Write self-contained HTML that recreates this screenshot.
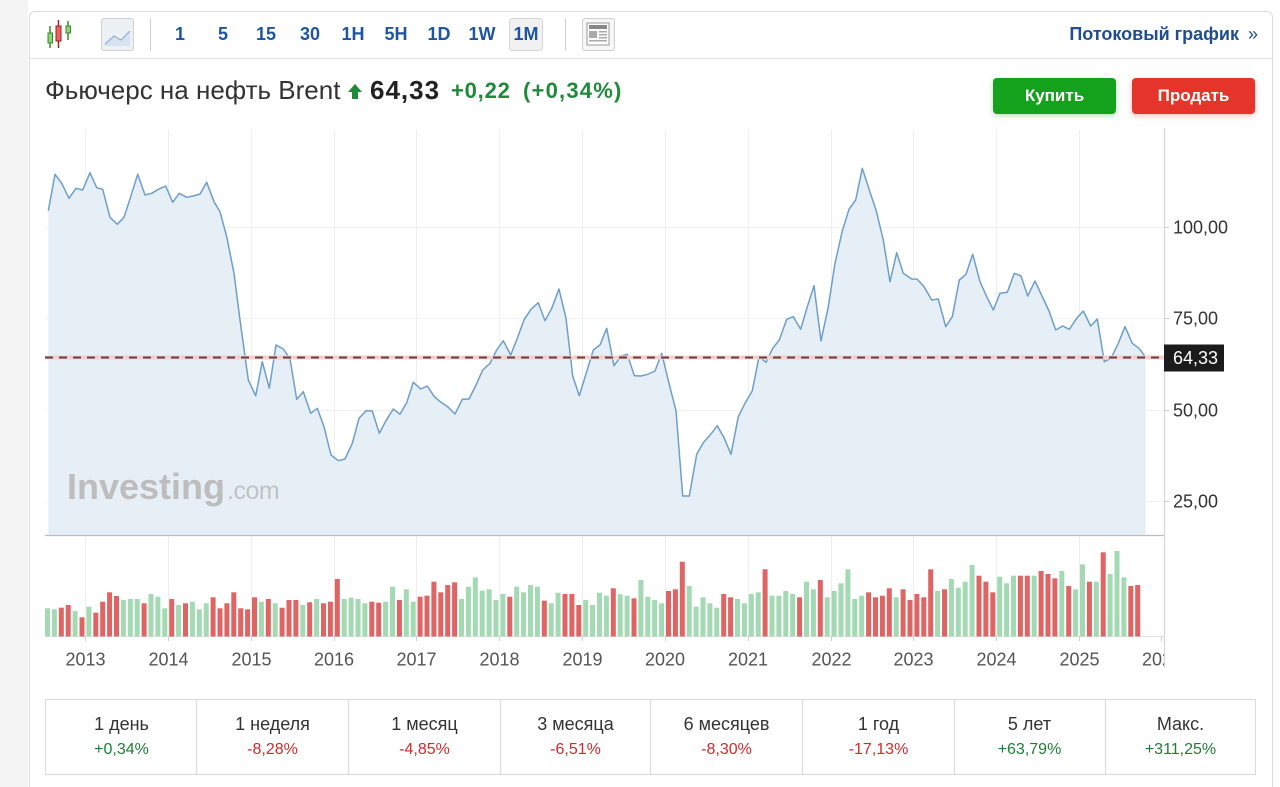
<!DOCTYPE html>
<html style="overflow:hidden;height:787px"><head><meta charset="utf-8"><style>
body{margin:0;width:1280px;height:787px;overflow:hidden;background:#fff;font-family:"Liberation Sans",Arial,sans-serif;position:relative}
.a{position:absolute;white-space:nowrap}
.iv{position:absolute;top:24px;width:40px;text-align:center;font-weight:bold;font-size:18px;line-height:20px;color:#1f55a0}
.cell{position:absolute;top:700px;width:151px;height:74px;text-align:center}
.cell .l{position:absolute;left:0;right:0;top:13px;font-size:18px;line-height:22px;color:#333}
.cell .v{position:absolute;left:0;right:0;top:41px;font-size:16px;line-height:18px}
.g{color:#1f7e35}.r{color:#d2292b}
</style></head><body>
<div class="a" style="left:0;top:0;width:28px;height:787px;background:#f4f4f4"></div>
<div class="a" style="left:29px;top:11px;width:1242px;height:776px;border:1px solid #dcdcdc;border-bottom:none;border-radius:6px 6px 0 0;background:#fff"></div>
<div class="a" style="left:30px;top:58px;width:1242px;height:1px;background:#e3e3e3"></div>

<!-- toolbar boxes -->
<div class="a" style="left:101px;top:18px;width:31px;height:31px;background:#eef1f4;border:1px solid #d0d0d0;border-radius:3px"></div>
<div class="a" style="left:509px;top:18px;width:32px;height:31px;background:#f1f1f1;border:1px solid #d6d6d6;border-radius:3px"></div>
<div class="a" style="left:582px;top:18px;width:31px;height:31px;background:#f6f6f6;border:1px solid #cfcfcf;border-radius:3px"></div>
<div class="a" style="left:150px;top:18px;width:1px;height:33px;background:#cfcfcf"></div>
<div class="a" style="left:565px;top:18px;width:1px;height:33px;background:#cfcfcf"></div>

<div class="iv" style="left:160px">1</div>
<div class="iv" style="left:203px">5</div>
<div class="iv" style="left:246px">15</div>
<div class="iv" style="left:290px">30</div>
<div class="iv" style="left:333px">1H</div>
<div class="iv" style="left:376px">5H</div>
<div class="iv" style="left:419px">1D</div>
<div class="iv" style="left:462px">1W</div>
<div class="iv" style="left:506px">1M</div>

<div class="a" style="right:22px;top:24px;font-weight:bold;font-size:18px;line-height:20px;color:#1f4e8f">Потоковый график <span style="font-weight:normal;margin-left:4px">»</span></div>

<!-- title -->
<div class="a" style="left:45px;top:75px;font-size:26px;line-height:30px;color:#333">Фьючерс на нефть Brent</div>
<div class="a" style="left:370px;top:75px;font-size:26px;line-height:30px;color:#222;font-weight:bold;letter-spacing:1px">64,33</div>
<div class="a" style="left:451px;top:78px;font-size:22px;line-height:26px;color:#1f8a3a;font-weight:bold;letter-spacing:0.8px">+0,22</div>
<div class="a" style="left:523px;top:78px;font-size:22px;line-height:26px;color:#1f8a3a;font-weight:bold;letter-spacing:1.2px">(+0,34%)</div>

<div class="a" style="left:993px;top:78px;width:123px;height:36px;background:#14a11c;border-radius:4px;box-shadow:0 2px 6px rgba(20,160,30,0.3);color:#fff;font-weight:bold;font-size:17px;line-height:36px;text-align:center">Купить</div>
<div class="a" style="left:1132px;top:78px;width:123px;height:36px;background:#e5352b;border-radius:4px;box-shadow:0 2px 6px rgba(229,53,43,0.3);color:#fff;font-weight:bold;font-size:17px;line-height:36px;text-align:center">Продать</div>

<svg class="a" style="left:0;top:0" width="1280" height="787" xmlns="http://www.w3.org/2000/svg">
<!-- candlestick icon -->
<g stroke-width="1.5">
<line x1="50" y1="26" x2="50" y2="48" stroke="#3a8a2a"/>
<rect x="48" y="33" width="4.5" height="10" fill="#8fd37a" stroke="#3a8a2a" stroke-width="1"/>
<line x1="58.5" y1="20" x2="58.5" y2="48" stroke="#a02020"/>
<rect x="56" y="26" width="5" height="15" fill="#f06060" stroke="#a02020" stroke-width="1"/>
<line x1="68" y1="21" x2="68" y2="40" stroke="#3a8a2a"/>
<rect x="66" y="26" width="4.5" height="7" fill="#8fd37a" stroke="#3a8a2a" stroke-width="1"/>
</g>
<!-- area icon -->
<path d="M105,44 L114,36 L121,40 L130,31 L130,46 L105,46 Z" fill="#d7e3f0"/>
<polyline points="105,44 114,36 121,40 130,31" fill="none" stroke="#8fb0d0" stroke-width="1.2"/>
<!-- news icon -->
<rect x="587" y="23" width="22" height="22" fill="#fff" stroke="#9a9a9a" stroke-width="1"/>
<rect x="589" y="25" width="18" height="4" fill="#888"/>
<rect x="589" y="31" width="8" height="7" fill="#aaa"/>
<rect x="599" y="31" width="8" height="1.5" fill="#aaa"/>
<rect x="599" y="34" width="8" height="1.5" fill="#aaa"/>
<rect x="599" y="37" width="8" height="1.5" fill="#aaa"/>
<rect x="589" y="40" width="18" height="1.5" fill="#aaa"/>
<!-- up arrow -->
<path d="M355,84 L362,92 L358,92 L358,99 L352,99 L352,92 L348,92 Z" fill="#1f8a3a"/>

<!-- gridlines -->
<g stroke="#f1f1f1" stroke-width="1">
<line x1="45" y1="227.5" x2="1164" y2="227.5"/>
<line x1="45" y1="318.5" x2="1164" y2="318.5"/>
<line x1="45" y1="410.5" x2="1164" y2="410.5"/>
<line x1="45" y1="501.5" x2="1164" y2="501.5"/>
</g>
<g stroke="#efefef" stroke-width="1">
<line x1="85.5" y1="130" x2="85.5" y2="636"/>
<line x1="168.5" y1="130" x2="168.5" y2="636"/>
<line x1="251.5" y1="130" x2="251.5" y2="636"/>
<line x1="334.5" y1="130" x2="334.5" y2="636"/>
<line x1="416.5" y1="130" x2="416.5" y2="636"/>
<line x1="499.5" y1="130" x2="499.5" y2="636"/>
<line x1="582.5" y1="130" x2="582.5" y2="636"/>
<line x1="665.5" y1="130" x2="665.5" y2="636"/>
<line x1="748.5" y1="130" x2="748.5" y2="636"/>
<line x1="831.5" y1="130" x2="831.5" y2="636"/>
<line x1="913.5" y1="130" x2="913.5" y2="636"/>
<line x1="996.5" y1="130" x2="996.5" y2="636"/>
<line x1="1079.5" y1="130" x2="1079.5" y2="636"/>
</g>

<!-- area fill + line -->
<path fill="#e6eef6" d="M48.3,535 L48.3,210.7 L55,174.3 L61.7,183.3 L69,198.3 L76,188.3 L82.7,190 L90,172.7 L96.7,187.7 L102.7,189.3 L110,217.3 L117.3,224.3 L124,217.3 L130.7,196.7 L137.7,174.3 L145,195 L151.7,193.3 L158.3,189.3 L165.7,186 L172.7,202.3 L179.3,193.3 L186.7,197.3 L193.3,196 L200,194 L206.7,182.3 L214,201.7 L220,211.7 L226.7,236.7 L234,273.3 L240,320 L248.3,380 L255.7,395.7 L262.3,361.7 L269.3,388.3 L276,345 L283.3,349 L290,359 L296.7,399.3 L303.3,391.7 L310.7,413.3 L317.3,408.3 L324,426.7 L331,455 L338.3,460.7 L345,459 L352.3,443.3 L359,418.3 L366,410.7 L372.3,411 L379.3,433.3 L386,420.7 L393.3,409 L400,414.3 L406.7,402.7 L413.3,382.3 L420.7,389 L427.3,386 L434.3,396.7 L441,402.3 L447.7,406.7 L455,414 L462.3,399.3 L469,399 L476,385 L482.7,370 L490,363.3 L496.7,350 L503.3,340.7 L510.7,355 L517.3,338.3 L524.3,319.3 L531,309.3 L538.3,302.7 L545,320.7 L551.7,308.3 L559,289 L566,318.3 L572.7,376 L579.3,395.7 L586.7,371.7 L593.3,350 L600,345 L606.7,328.3 L614,365.7 L621,356 L627.3,354.3 L634.3,375.7 L641,376 L647.7,374.3 L655,371 L661.7,353.3 L669,383.3 L676,410.7 L682.7,496 L689.3,496 L696.7,454.3 L703.3,442.7 L710.7,434.3 L717.3,425.7 L724.3,438.3 L731,454.3 L738.3,416.7 L745,403.3 L752.3,390.7 L759,356.7 L766,362.3 L772.7,348.3 L779.3,340 L786.7,319.3 L793.3,316.7 L800.7,329.3 L807.3,306.7 L814,285.7 L821,341 L828.3,306.7 L835,263.3 L842.3,231 L849,209.3 L855.7,200 L862.3,168.3 L869.3,190 L876,210 L883.3,240 L890,281.7 L896.7,252.7 L903.3,273.3 L911.7,279 L917.3,279.3 L924,286.7 L931.7,300 L938.3,299 L945.7,326.7 L952.3,316.7 L959.3,280 L966,274.3 L972.7,254.3 L980,281.7 L986.7,296.7 L993.3,310 L1000,293.3 L1007.3,292.3 L1014.3,273.3 L1021,276 L1027.7,296 L1035,281 L1042.3,296.7 L1049,311 L1055.7,330 L1062.7,326 L1069.3,329.3 L1076.7,318.3 L1083.3,311 L1090.7,326 L1097.3,319 L1104.3,361.7 L1111,358.3 L1118.3,343.3 L1125,326.7 L1132.3,343.3 L1139,348.3 L1145.7,357.3 L1145.7,535 Z"/>

<!-- watermark -->
<text x="67" y="499" font-family="Liberation Sans, Arial, sans-serif" font-weight="bold" font-size="36" fill="#bdbdbd" letter-spacing="0">Investing</text>
<text x="227" y="499" font-family="Liberation Sans, Arial, sans-serif" font-size="25" fill="#c2c2c2" letter-spacing="-0.5">.com</text>

<polyline fill="none" stroke="#6d9fca" stroke-width="1.5" stroke-linejoin="round" points="48.3,210.7 55,174.3 61.7,183.3 69,198.3 76,188.3 82.7,190 90,172.7 96.7,187.7 102.7,189.3 110,217.3 117.3,224.3 124,217.3 130.7,196.7 137.7,174.3 145,195 151.7,193.3 158.3,189.3 165.7,186 172.7,202.3 179.3,193.3 186.7,197.3 193.3,196 200,194 206.7,182.3 214,201.7 220,211.7 226.7,236.7 234,273.3 240,320 248.3,380 255.7,395.7 262.3,361.7 269.3,388.3 276,345 283.3,349 290,359 296.7,399.3 303.3,391.7 310.7,413.3 317.3,408.3 324,426.7 331,455 338.3,460.7 345,459 352.3,443.3 359,418.3 366,410.7 372.3,411 379.3,433.3 386,420.7 393.3,409 400,414.3 406.7,402.7 413.3,382.3 420.7,389 427.3,386 434.3,396.7 441,402.3 447.7,406.7 455,414 462.3,399.3 469,399 476,385 482.7,370 490,363.3 496.7,350 503.3,340.7 510.7,355 517.3,338.3 524.3,319.3 531,309.3 538.3,302.7 545,320.7 551.7,308.3 559,289 566,318.3 572.7,376 579.3,395.7 586.7,371.7 593.3,350 600,345 606.7,328.3 614,365.7 621,356 627.3,354.3 634.3,375.7 641,376 647.7,374.3 655,371 661.7,353.3 669,383.3 676,410.7 682.7,496 689.3,496 696.7,454.3 703.3,442.7 710.7,434.3 717.3,425.7 724.3,438.3 731,454.3 738.3,416.7 745,403.3 752.3,390.7 759,356.7 766,362.3 772.7,348.3 779.3,340 786.7,319.3 793.3,316.7 800.7,329.3 807.3,306.7 814,285.7 821,341 828.3,306.7 835,263.3 842.3,231 849,209.3 855.7,200 862.3,168.3 869.3,190 876,210 883.3,240 890,281.7 896.7,252.7 903.3,273.3 911.7,279 917.3,279.3 924,286.7 931.7,300 938.3,299 945.7,326.7 952.3,316.7 959.3,280 966,274.3 972.7,254.3 980,281.7 986.7,296.7 993.3,310 1000,293.3 1007.3,292.3 1014.3,273.3 1021,276 1027.7,296 1035,281 1042.3,296.7 1049,311 1055.7,330 1062.7,326 1069.3,329.3 1076.7,318.3 1083.3,311 1090.7,326 1097.3,319 1104.3,361.7 1111,358.3 1118.3,343.3 1125,326.7 1132.3,343.3 1139,348.3 1145.7,357.3"/>

<!-- current price dashed line -->
<line x1="45" y1="357.5" x2="1164" y2="357.5" stroke="#f3d0d0" stroke-width="4"/>
<line x1="45" y1="357.5" x2="1164" y2="357.5" stroke="#6a3c3c" stroke-width="2" stroke-dasharray="8,6"/>

<!-- separators and frame -->
<line x1="45" y1="535.5" x2="1164" y2="535.5" stroke="#bdbdbd" stroke-width="1.2"/>
<line x1="45" y1="636.5" x2="1164" y2="636.5" stroke="#e2e2e2" stroke-width="1"/>
<line x1="1164.5" y1="128" x2="1164.5" y2="668" stroke="#d6d6d6" stroke-width="1.2"/>
<g stroke="#d0d0d0" stroke-width="1">
<line x1="1164" y1="227.5" x2="1169" y2="227.5"/>
<line x1="1164" y1="318.5" x2="1169" y2="318.5"/>
<line x1="1164" y1="410.5" x2="1169" y2="410.5"/>
<line x1="1164" y1="501.5" x2="1169" y2="501.5"/>
<line x1="85.5" y1="636" x2="85.5" y2="641"/>
<line x1="168.5" y1="636" x2="168.5" y2="641"/>
<line x1="251.5" y1="636" x2="251.5" y2="641"/>
<line x1="334.5" y1="636" x2="334.5" y2="641"/>
<line x1="416.5" y1="636" x2="416.5" y2="641"/>
<line x1="499.5" y1="636" x2="499.5" y2="641"/>
<line x1="582.5" y1="636" x2="582.5" y2="641"/>
<line x1="665.5" y1="636" x2="665.5" y2="641"/>
<line x1="748.5" y1="636" x2="748.5" y2="641"/>
<line x1="831.5" y1="636" x2="831.5" y2="641"/>
<line x1="913.5" y1="636" x2="913.5" y2="641"/>
<line x1="996.5" y1="636" x2="996.5" y2="641"/>
<line x1="1079.5" y1="636" x2="1079.5" y2="641"/>
<line x1="1161.5" y1="636" x2="1161.5" y2="641"/>
</g>

<!-- volume bars green -->
<g fill="#a3d9b3">
<rect x="45" y="608.3" width="5" height="28.2"/>
<rect x="51.9" y="609.3" width="5" height="27.2"/>
<rect x="72.6" y="611" width="5" height="25.5"/>
<rect x="86.4" y="606.7" width="5" height="29.8"/>
<rect x="120.9" y="600" width="5" height="36.5"/>
<rect x="127.8" y="599" width="5" height="37.5"/>
<rect x="134.7" y="599" width="5" height="37.5"/>
<rect x="148.5" y="594" width="5" height="42.5"/>
<rect x="155.4" y="596.7" width="5" height="39.8"/>
<rect x="162.3" y="608.3" width="5" height="28.2"/>
<rect x="176.1" y="605" width="5" height="31.5"/>
<rect x="189.9" y="601.7" width="5" height="34.8"/>
<rect x="196.8" y="609.3" width="5" height="27.2"/>
<rect x="203.7" y="603.3" width="5" height="33.2"/>
<rect x="258.9" y="601.7" width="5" height="34.8"/>
<rect x="272.7" y="603.3" width="5" height="33.2"/>
<rect x="300.3" y="605" width="5" height="31.5"/>
<rect x="314.1" y="599" width="5" height="37.5"/>
<rect x="341.7" y="599" width="5" height="37.5"/>
<rect x="348.6" y="597.7" width="5" height="38.8"/>
<rect x="355.5" y="599" width="5" height="37.5"/>
<rect x="362.4" y="603.3" width="5" height="33.2"/>
<rect x="383.1" y="601.7" width="5" height="34.8"/>
<rect x="390" y="586.7" width="5" height="49.8"/>
<rect x="403.8" y="589.3" width="5" height="47.2"/>
<rect x="410.7" y="601.7" width="5" height="34.8"/>
<rect x="459" y="599" width="5" height="37.5"/>
<rect x="465.9" y="586.7" width="5" height="49.8"/>
<rect x="472.8" y="577.3" width="5" height="59.2"/>
<rect x="479.7" y="590.7" width="5" height="45.8"/>
<rect x="486.6" y="589.3" width="5" height="47.2"/>
<rect x="493.5" y="600" width="5" height="36.5"/>
<rect x="500.4" y="594" width="5" height="42.5"/>
<rect x="514.2" y="586.7" width="5" height="49.8"/>
<rect x="521.1" y="592.3" width="5" height="44.2"/>
<rect x="528" y="585" width="5" height="51.5"/>
<rect x="534.9" y="586.7" width="5" height="49.8"/>
<rect x="548.7" y="603.3" width="5" height="33.2"/>
<rect x="555.6" y="592.7" width="5" height="43.8"/>
<rect x="583.2" y="600" width="5" height="36.5"/>
<rect x="590.1" y="605" width="5" height="31.5"/>
<rect x="597" y="592.7" width="5" height="43.8"/>
<rect x="603.9" y="595.7" width="5" height="40.8"/>
<rect x="617.7" y="594.3" width="5" height="42.2"/>
<rect x="624.6" y="595.7" width="5" height="40.8"/>
<rect x="638.4" y="580" width="5" height="56.5"/>
<rect x="645.3" y="596.7" width="5" height="39.8"/>
<rect x="652.2" y="600" width="5" height="36.5"/>
<rect x="659.1" y="603.3" width="5" height="33.2"/>
<rect x="686.7" y="586" width="5" height="50.5"/>
<rect x="693.6" y="606.7" width="5" height="29.8"/>
<rect x="700.5" y="597.3" width="5" height="39.2"/>
<rect x="707.4" y="603.3" width="5" height="33.2"/>
<rect x="714.3" y="607.7" width="5" height="28.8"/>
<rect x="735" y="599" width="5" height="37.5"/>
<rect x="741.9" y="603.3" width="5" height="33.2"/>
<rect x="748.8" y="594" width="5" height="42.5"/>
<rect x="755.7" y="592.3" width="5" height="44.2"/>
<rect x="769.5" y="595.7" width="5" height="40.8"/>
<rect x="776.4" y="595.7" width="5" height="40.8"/>
<rect x="783.3" y="591" width="5" height="45.5"/>
<rect x="790.2" y="594" width="5" height="42.5"/>
<rect x="804" y="581.7" width="5" height="54.8"/>
<rect x="810.9" y="589.3" width="5" height="47.2"/>
<rect x="824.7" y="597.3" width="5" height="39.2"/>
<rect x="831.6" y="591" width="5" height="45.5"/>
<rect x="838.5" y="583.3" width="5" height="53.2"/>
<rect x="845.4" y="569.3" width="5" height="67.2"/>
<rect x="852.3" y="599" width="5" height="37.5"/>
<rect x="859.2" y="595.7" width="5" height="40.8"/>
<rect x="893.7" y="597.3" width="5" height="39.2"/>
<rect x="935.1" y="591" width="5" height="45.5"/>
<rect x="948.9" y="579" width="5" height="57.5"/>
<rect x="955.8" y="587.7" width="5" height="48.8"/>
<rect x="962.7" y="581.7" width="5" height="54.8"/>
<rect x="969.6" y="565" width="5" height="71.5"/>
<rect x="997.2" y="576.7" width="5" height="59.8"/>
<rect x="1004.1" y="583.3" width="5" height="53.2"/>
<rect x="1011" y="575.7" width="5" height="60.8"/>
<rect x="1031.7" y="575.7" width="5" height="60.8"/>
<rect x="1059.3" y="571" width="5" height="65.5"/>
<rect x="1073.1" y="589.3" width="5" height="47.2"/>
<rect x="1080" y="564.3" width="5" height="72.2"/>
<rect x="1093.8" y="581.7" width="5" height="54.8"/>
<rect x="1107.6" y="574" width="5" height="62.5"/>
<rect x="1114.5" y="551" width="5" height="85.5"/>
<rect x="1121.4" y="577.3" width="5" height="59.2"/>
</g>
<!-- volume bars red -->
<g fill="#df6464">
<rect x="58.8" y="607.7" width="5" height="28.8"/>
<rect x="65.7" y="605" width="5" height="31.5"/>
<rect x="79.5" y="617.3" width="5" height="19.2"/>
<rect x="93.3" y="612.7" width="5" height="23.8"/>
<rect x="100.2" y="601.7" width="5" height="34.8"/>
<rect x="107.1" y="592.3" width="5" height="44.2"/>
<rect x="114" y="596" width="5" height="40.5"/>
<rect x="141.6" y="603.3" width="5" height="33.2"/>
<rect x="169.2" y="599" width="5" height="37.5"/>
<rect x="183" y="603.3" width="5" height="33.2"/>
<rect x="210.6" y="597.3" width="5" height="39.2"/>
<rect x="217.5" y="608.3" width="5" height="28.2"/>
<rect x="224.4" y="603.3" width="5" height="33.2"/>
<rect x="231.3" y="592.3" width="5" height="44.2"/>
<rect x="238.2" y="608.3" width="5" height="28.2"/>
<rect x="245.1" y="609.3" width="5" height="27.2"/>
<rect x="252" y="597.3" width="5" height="39.2"/>
<rect x="265.8" y="599" width="5" height="37.5"/>
<rect x="279.6" y="607.7" width="5" height="28.8"/>
<rect x="286.5" y="600" width="5" height="36.5"/>
<rect x="293.4" y="600" width="5" height="36.5"/>
<rect x="307.2" y="602.3" width="5" height="34.2"/>
<rect x="321" y="603.3" width="5" height="33.2"/>
<rect x="327.9" y="601.7" width="5" height="34.8"/>
<rect x="334.8" y="579" width="5" height="57.5"/>
<rect x="369.3" y="601.7" width="5" height="34.8"/>
<rect x="376.2" y="602.7" width="5" height="33.8"/>
<rect x="396.9" y="600" width="5" height="36.5"/>
<rect x="417.6" y="596.7" width="5" height="39.8"/>
<rect x="424.5" y="595.7" width="5" height="40.8"/>
<rect x="431.4" y="581.7" width="5" height="54.8"/>
<rect x="438.3" y="592.3" width="5" height="44.2"/>
<rect x="445.2" y="585" width="5" height="51.5"/>
<rect x="452.1" y="582.3" width="5" height="54.2"/>
<rect x="507.3" y="596.7" width="5" height="39.8"/>
<rect x="541.8" y="600.7" width="5" height="35.8"/>
<rect x="562.5" y="594" width="5" height="42.5"/>
<rect x="569.4" y="594" width="5" height="42.5"/>
<rect x="576.3" y="605" width="5" height="31.5"/>
<rect x="610.8" y="588.3" width="5" height="48.2"/>
<rect x="631.5" y="598.3" width="5" height="38.2"/>
<rect x="666" y="591" width="5" height="45.5"/>
<rect x="672.9" y="589.3" width="5" height="47.2"/>
<rect x="679.8" y="561.7" width="5" height="74.8"/>
<rect x="721.2" y="594" width="5" height="42.5"/>
<rect x="728.1" y="597.3" width="5" height="39.2"/>
<rect x="762.6" y="569.3" width="5" height="67.2"/>
<rect x="797.1" y="597.3" width="5" height="39.2"/>
<rect x="817.8" y="580" width="5" height="56.5"/>
<rect x="866.1" y="592.3" width="5" height="44.2"/>
<rect x="873" y="597.3" width="5" height="39.2"/>
<rect x="879.9" y="595.7" width="5" height="40.8"/>
<rect x="886.8" y="588.3" width="5" height="48.2"/>
<rect x="900.6" y="589.3" width="5" height="47.2"/>
<rect x="907.5" y="600" width="5" height="36.5"/>
<rect x="914.4" y="594" width="5" height="42.5"/>
<rect x="921.3" y="597.3" width="5" height="39.2"/>
<rect x="928.2" y="569.3" width="5" height="67.2"/>
<rect x="942" y="589.3" width="5" height="47.2"/>
<rect x="976.5" y="575.7" width="5" height="60.8"/>
<rect x="983.4" y="581.7" width="5" height="54.8"/>
<rect x="990.3" y="592.3" width="5" height="44.2"/>
<rect x="1017.9" y="575.7" width="5" height="60.8"/>
<rect x="1024.8" y="575.7" width="5" height="60.8"/>
<rect x="1038.6" y="571" width="5" height="65.5"/>
<rect x="1045.5" y="574" width="5" height="62.5"/>
<rect x="1052.4" y="578.3" width="5" height="58.2"/>
<rect x="1066.2" y="586" width="5" height="50.5"/>
<rect x="1086.9" y="581.7" width="5" height="54.8"/>
<rect x="1100.7" y="552.3" width="5" height="84.2"/>
<rect x="1128.3" y="586" width="5" height="50.5"/>
<rect x="1135.2" y="585" width="5" height="51.5"/>
</g>

<!-- price axis labels -->
<g font-family="Liberation Sans, Arial, sans-serif" font-size="18" fill="#333">
<text x="1173" y="233.5">100,00</text>
<text x="1173" y="324.5">75,00</text>
<text x="1173" y="416.5">50,00</text>
<text x="1173" y="507.5">25,00</text>
</g>
<rect x="1164" y="344.5" width="60" height="27" fill="#1b1b1b"/>
<text x="1173" y="364" font-family="Liberation Sans, Arial, sans-serif" font-size="18" fill="#fff">64,33</text>

<!-- year labels -->
<defs><clipPath id="cp"><rect x="40" y="640" width="1124" height="40"/></clipPath></defs>
<g font-family="Liberation Sans, Arial, sans-serif" font-size="18" fill="#555" text-anchor="middle" clip-path="url(#cp)">
<text x="85.5" y="665.5">2013</text>
<text x="168.5" y="665.5">2014</text>
<text x="251.5" y="665.5">2015</text>
<text x="334" y="665.5">2016</text>
<text x="416.5" y="665.5">2017</text>
<text x="499.5" y="665.5">2018</text>
<text x="582.5" y="665.5">2019</text>
<text x="665" y="665.5">2020</text>
<text x="748" y="665.5">2021</text>
<text x="831.5" y="665.5">2022</text>
<text x="913.5" y="665.5">2023</text>
<text x="996.5" y="665.5">2024</text>
<text x="1079.5" y="665.5">2025</text>
<text x="1162" y="665.5">2026</text>
</g>

<!-- stats table frame -->
<rect x="45.5" y="699.5" width="1210" height="75" fill="none" stroke="#dcdcdc" stroke-width="1.2"/>
<g stroke="#dcdcdc" stroke-width="1.2">
<line x1="196.5" y1="700" x2="196.5" y2="774"/>
<line x1="348.5" y1="700" x2="348.5" y2="774"/>
<line x1="500.5" y1="700" x2="500.5" y2="774"/>
<line x1="650.5" y1="700" x2="650.5" y2="774"/>
<line x1="802.5" y1="700" x2="802.5" y2="774"/>
<line x1="954.5" y1="700" x2="954.5" y2="774"/>
<line x1="1105.5" y1="700" x2="1105.5" y2="774"/>
</g>
</svg>

<div class="cell" style="left:46px"><div class="l">1 день</div><div class="v g">+0,34%</div></div>
<div class="cell" style="left:197px"><div class="l">1 неделя</div><div class="v r">-8,28%</div></div>
<div class="cell" style="left:349px"><div class="l">1 месяц</div><div class="v r">-4,85%</div></div>
<div class="cell" style="left:500px"><div class="l">3 месяца</div><div class="v r">-6,51%</div></div>
<div class="cell" style="left:651px"><div class="l">6 месяцев</div><div class="v r">-8,30%</div></div>
<div class="cell" style="left:803px"><div class="l">1 год</div><div class="v r">-17,13%</div></div>
<div class="cell" style="left:954px"><div class="l">5 лет</div><div class="v g">+63,79%</div></div>
<div class="cell" style="left:1105px"><div class="l">Макс.</div><div class="v g">+311,25%</div></div>
</body></html>
